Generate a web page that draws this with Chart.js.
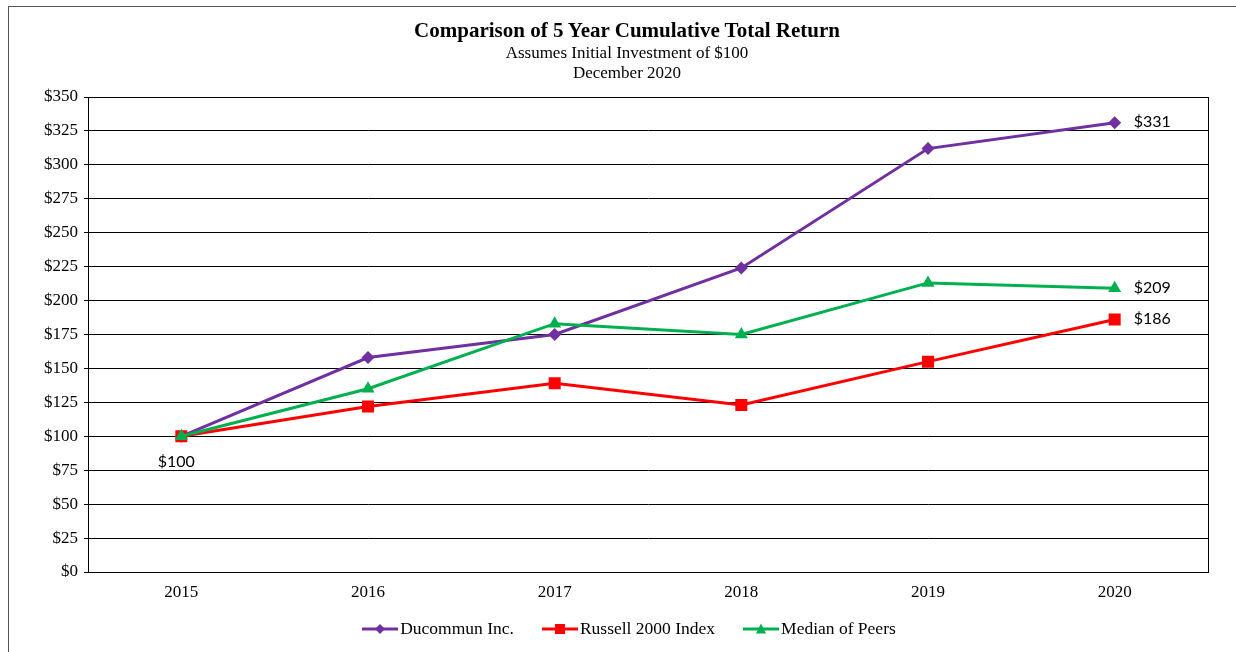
<!DOCTYPE html>
<html>
<head>
<meta charset="utf-8">
<script src="https://cdn.jsdelivr.net/npm/chart.js@4/dist/chart.umd.min.js"></script>
<style>
  html, body { margin: 0; padding: 0; background: #fff; }
  #wrap { position: relative; width: 1236px; height: 652px; overflow: hidden; }
  #frame { position: absolute; left: 8px; top: 6px; width: 1260px; height: 700px; border: 1px solid #555; box-sizing: border-box; }
  canvas { position: absolute; left: 0; top: 0; }
  .t { position: absolute; left: 0; width: 1254px; text-align: center; font-family: "Liberation Serif", "Times New Roman", serif; color: #000; white-space: nowrap; }
  #title { top: 18px; font-size: 21px; font-weight: bold; }
  #sub1 { top: 43px; font-size: 17px; }
  #sub2 { top: 63px; font-size: 17px; }
  #legend { position: absolute; top: 618px; left: 0; width: 1258px; display: flex; justify-content: center; font-family: "Liberation Serif", "Times New Roman", serif; font-size: 17.5px; color: #000; }
  .item { display: flex; align-items: center; margin: 0 14px; }
  .item svg { margin-right: 2px; }
</style>
</head>
<body>
<div id="wrap">
  <div id="frame"></div>
  <canvas id="c" width="1236" height="652"></canvas>
  <div class="t" id="title">Comparison of 5 Year Cumulative Total Return</div>
  <div class="t" id="sub1">Assumes Initial Investment of $100</div>
  <div class="t" id="sub2">December 2020</div>
  <div id="legend"></div>
</div>
<script>
const years = ["2015", "2016", "2017", "2018", "2019", "2020"];
const ducommun = [100, 158, 175, 224, 312, 331];
const russell = [100, 122, 139, 123, 155, 186];
const peers = [100, 135, 183, 175, 213, 209];
const seriesNames = ["Ducommun Inc.", "Russell 2000 Index", "Median of Peers"];
const seriesColors = ["#7030A0", "#FF0000", "#00B050"];
const pointStyles = ["rectRot", "rect", "triangle"];
const labelPoints = [
  { ds: 0, idx: 5, text: "$331", pos: "right" },
  { ds: 2, idx: 5, text: "$209", pos: "right" },
  { ds: 1, idx: 5, text: "$186", pos: "right" },
  { ds: 0, idx: 0, text: "$100", pos: "below" }
];

const frameBox = {
  id: 'frameBox',
  afterDraw(chart) {
    const { ctx, chartArea: a } = chart;
    ctx.save();
    ctx.strokeStyle = '#000';
    ctx.lineWidth = 1;
    ctx.strokeRect(Math.round(a.left) + 0.5, Math.round(a.top) + 0.5, Math.round(a.right - a.left), Math.round(a.bottom - a.top));
    ctx.restore();
  }
};
const dataLabels = {
  id: 'dataLabels',
  afterDatasetsDraw(chart) {
    const ctx = chart.ctx;
    ctx.save();
    ctx.font = '16px Lato, "Open Sans", sans-serif';
    ctx.fillStyle = '#000';
    labelPoints.forEach(l => {
      const el = chart.getDatasetMeta(l.ds).data[l.idx];
      if (l.pos === 'right') {
        ctx.textAlign = 'left'; ctx.textBaseline = 'middle';
        ctx.fillText(l.text, el.x + 19, el.y - 1);
      } else {
        ctx.textAlign = 'center'; ctx.textBaseline = 'middle';
        ctx.fillText(l.text, el.x - 5, el.y + 26);
      }
    });
    ctx.restore();
  }
};

const radii = [6.5, 8.5, 7.5];
const dataSets = [ducommun, russell, peers].map((d, i) => ({
  label: seriesNames[i],
  data: d,
  order: 3 - i,
  borderColor: seriesColors[i],
  backgroundColor: seriesColors[i],
  borderWidth: 3,
  pointStyle: pointStyles[i],
  pointRadius: radii[i],
  pointHoverRadius: radii[i],
  pointBorderWidth: 0,
  tension: 0
}));

new Chart(document.getElementById('c'), {
  type: 'line',
  data: { labels: years, datasets: dataSets },
  options: {
    responsive: false,
    animation: false,
    devicePixelRatio: 1,
    layout: { padding: { left: 18, right: 28, top: 97, bottom: 40 } },
    plugins: { legend: { display: false }, title: { display: false }, tooltip: { enabled: false } },
    scales: {
      x: {
        offset: true,
        grid: { display: false },
        border: { display: true, color: '#000', width: 1 },
        ticks: { color: '#000', font: { family: 'Liberation Serif', size: 17 }, padding: 2, maxRotation: 0 },
        afterFit(s) { s.height = 40; }
      },
      y: {
        min: 0, max: 350,
        grid: { color: '#000', lineWidth: 1, tickLength: 4, drawTicks: true },
        border: { display: true, color: '#000', width: 1 },
        ticks: { stepSize: 25, color: '#000', font: { family: 'Liberation Serif', size: 17 }, padding: 6,
                 callback: v => '$' + v },
        afterFit(s) { s.width = 70; }
      }
    }
  },
  plugins: [frameBox, dataLabels]
});

// HTML legend
const legend = document.getElementById('legend');
seriesNames.forEach((name, i) => {
  const c = seriesColors[i];
  let marker;
  if (i === 0) marker = `<polygon points="18,1 23,6 18,11 13,6" fill="${c}"/>`;
  else if (i === 1) marker = `<rect x="13" y="1" width="10" height="10" fill="${c}"/>`;
  else marker = `<polygon points="18,0.5 23,10.5 13,10.5" fill="${c}"/>`;
  const item = document.createElement('div');
  item.className = 'item';
  item.innerHTML = `<svg width="36" height="12"><line x1="0" y1="6" x2="36" y2="6" stroke="${c}" stroke-width="3"/>${marker}</svg><span>${name}</span>`;
  legend.appendChild(item);
});
</script>
</body>
</html>
